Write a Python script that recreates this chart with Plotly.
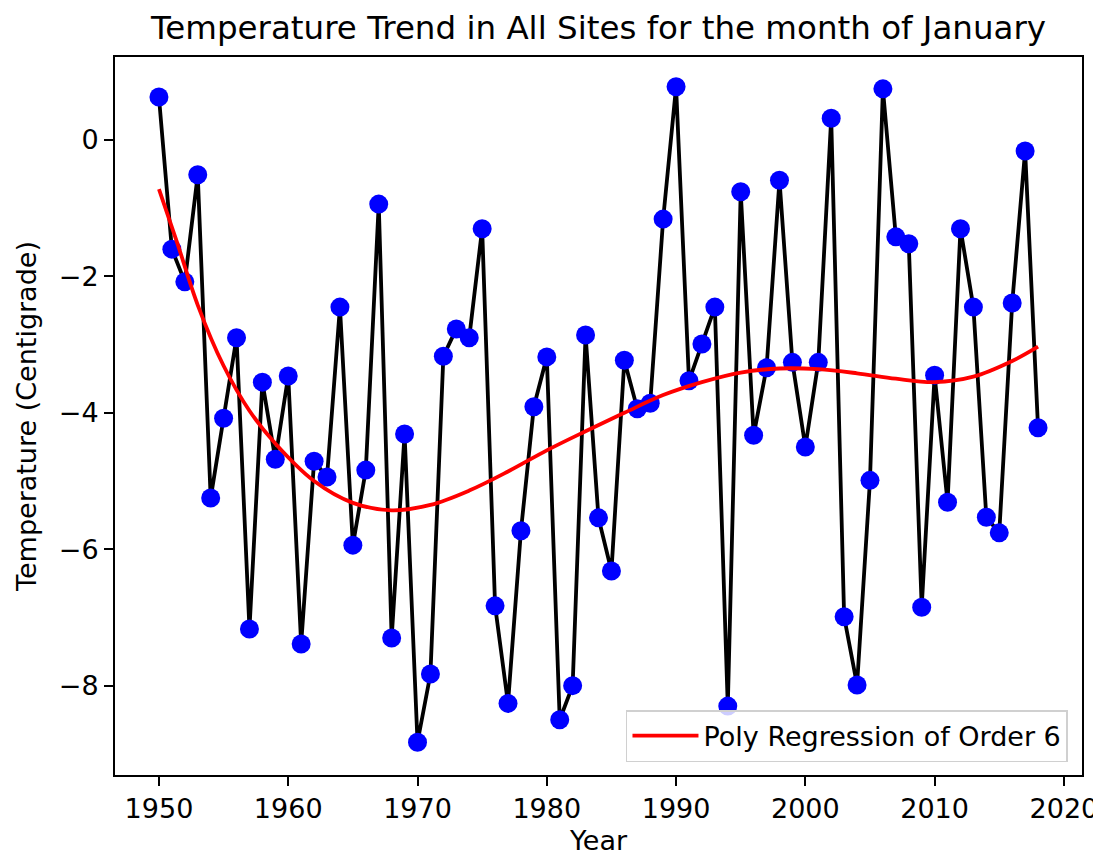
import plotly.graph_objects as go

years = list(range(1950, 2019))
temps = [0.63, -1.60, -2.08, -0.51, -5.25, -4.08, -2.90, -7.17, -3.55, -4.68,
         -3.46, -7.39, -4.71, -4.94, -2.45, -5.94, -4.84, -0.94, -7.30, -4.31,
         -8.83, -7.83, -3.17, -2.77, -2.90, -1.30, -6.83, -8.26, -5.73, -3.91,
         -3.18, -8.50, -8.00, -2.86, -5.54, -6.32, -3.23, -3.94, -3.86, -1.16,
         0.78, -3.53, -2.99, -2.45, -8.30, -0.76, -4.33, -3.34, -0.59, -3.26,
         -4.50, -3.26, 0.32, -6.99, -7.99, -4.99, 0.75, -1.42, -1.52, -6.85,
         -3.45, -5.31, -1.30, -2.45, -5.53, -5.76, -2.39, -0.16, -4.22]

# Order-6 polynomial regression curve
fit_years = [1950, 1951.4, 1953, 1955, 1957, 1959, 1962, 1965, 1968, 1971,
             1974, 1977, 1980, 1983, 1986, 1989, 1992, 1995, 1998, 2001,
             2004, 2007, 2010, 2013, 2016, 2018]
fit_vals = [-0.72, -1.50, -2.42, -3.31, -3.97, -4.45, -5.00, -5.32, -5.43, -5.35,
            -5.14, -4.86, -4.55, -4.27, -4.00, -3.74, -3.55, -3.41, -3.35, -3.36,
            -3.42, -3.50, -3.55, -3.47, -3.24, -3.03]

x_ticks = [1950, 1960, 1970, 1980, 1990, 2000, 2010, 2020]
y_ticks = [0, -2, -4, -6, -8]

FONT = "DejaVu Sans"
TXT = "black"
FS = 27

fig = go.Figure()
fig.add_trace(go.Scatter(
    x=years, y=temps, mode="lines+markers",
    line=dict(color="black", width=3.8),
    marker=dict(color="blue", size=19),
    showlegend=False, hoverinfo="skip"))
fig.add_trace(go.Scatter(
    x=fit_years, y=fit_vals, mode="lines",
    line=dict(color="red", width=3.8, shape="spline", smoothing=1.0),
    name="Poly Regression of Order 6"))

axis_common = dict(
    showline=True, linecolor="black", linewidth=2, mirror=True,
    ticks="outside", ticklen=9, tickwidth=2, tickcolor="black",
    showgrid=False, zeroline=False, automargin=False,
    tickfont=dict(family=FONT, size=FS, color=TXT))

# the page body adds an 8px offset; margins compensate for it
fig.update_layout(
    width=1101, height=857,
    margin=dict(l=107, r=27, t=49, b=90),
    plot_bgcolor="white", paper_bgcolor="white",
    font=dict(family=FONT, color=TXT),
    title=dict(text="Temperature Trend in All Sites for the month of January",
               x=0.5, xref="paper", y=1 - 20 / 857, yref="container",
               xanchor="center", yanchor="middle",
               font=dict(family=FONT, size=32.5, color=TXT)),
    xaxis=dict(range=[1946.6, 2021.4], tickvals=x_ticks,
               title=dict(text="Year", font=dict(family=FONT, size=FS, color=TXT), standoff=8),
               **axis_common),
    yaxis=dict(range=[-9.31, 1.217], tickvals=y_ticks,
               title=dict(text="Temperature (Centigrade)", font=dict(family=FONT, size=FS, color=TXT), standoff=14),
               **axis_common),
    legend=dict(x=0.9855, y=0.018, xanchor="right", yanchor="bottom",
                bgcolor="rgba(255,255,255,0.8)", bordercolor="#d0d0d0", borderwidth=1.5,
                itemwidth=66,
                font=dict(family=FONT, size=FS, color=TXT)),
)

fig.write_html("out.html")
